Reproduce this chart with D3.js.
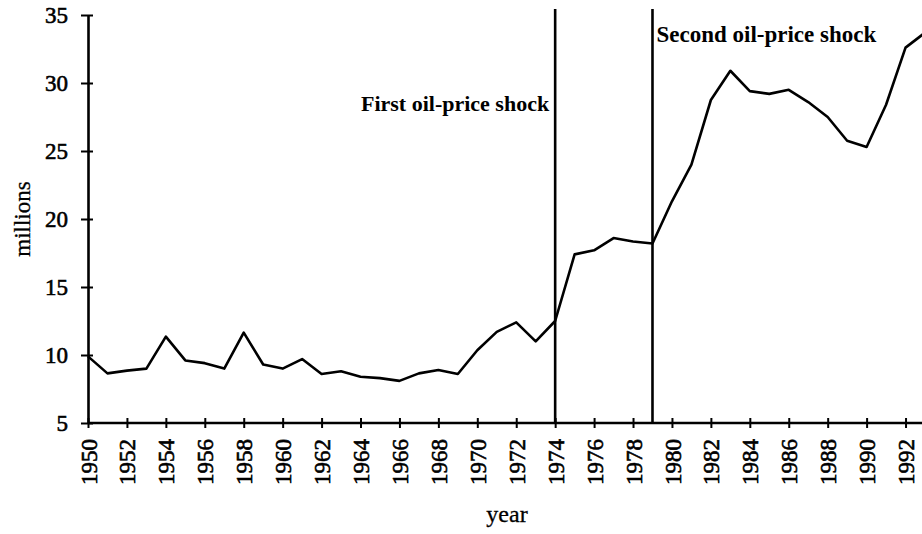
<!DOCTYPE html>
<html>
<head>
<meta charset="utf-8">
<script src="https://cdn.jsdelivr.net/npm/d3@7"></script>
<style>
  body { margin: 0; background: #fff; }
  text { font-family: "Liberation Serif", "Times New Roman", serif; fill: #000; }
</style>
</head>
<body>
<div id="chart"></div>
<script>
const years = d3.range(1950, 1994);
const millions = [
  9.9, 8.65, 8.85, 9.0, 11.35, 9.6, 9.4, 9.0, 11.65, 9.3,
  9.0, 9.7, 8.6, 8.8, 8.4, 8.3, 8.1, 8.65, 8.9, 8.6,
  10.35, 11.7, 12.4, 11.0, 12.5, 17.4, 17.7, 18.6, 18.35, 18.2,
  21.3, 24.0, 28.75, 30.9, 29.4, 29.2, 29.5, 28.6, 27.5, 25.75,
  25.3, 28.4, 32.6, 33.7
];
const yTicks = [5, 10, 15, 20, 25, 30, 35];
const xTicks = d3.range(1950, 1993, 2);
const shocks = [
  { year: 1974, label: "First oil-price shock", side: "left" },
  { year: 1979, label: "Second oil-price shock", side: "right" }
];

const W = 922, H = 534;
const svg = d3.select("#chart").append("svg")
    .attr("width", W)
    .attr("height", H);

const x = d3.scaleLinear().domain([1950, 1993]).range([88, 925]);
const y = d3.scaleLinear().domain([5, 35]).range([423, 15]);

// y axis
const yAxis = svg.append("g")
    .attr("transform", `translate(${x(1950)},0)`)
    .call(d3.axisLeft(y).tickValues(yTicks).tickSize(0).tickPadding(20));
yAxis.select(".domain").attr("stroke", "#000").attr("stroke-width", 2.6);
yAxis.selectAll(".tick text")
    .attr("font-size", 23)
    .attr("font-family", "Liberation Serif")
    .attr("stroke", "#000").attr("stroke-width", 0.6);
yAxis.selectAll(".tick").append("line")
    .attr("x1", -7).attr("x2", 5)
    .attr("stroke", "#000").attr("stroke-width", 2);

// x axis
const xAxis = svg.append("g")
    .attr("transform", `translate(0,${y(5)})`)
    .call(d3.axisBottom(x).tickValues(xTicks).tickFormat(d3.format("d")).tickSize(0));
xAxis.select(".domain").attr("stroke", "#000").attr("stroke-width", 2.6)
    .attr("d", `M${x(1950)},0H${W}`);
xAxis.selectAll(".tick line").remove();
xAxis.selectAll(".tick").append("line")
    .attr("y1", -5).attr("y2", 5)
    .attr("stroke", "#000").attr("stroke-width", 2);
xAxis.selectAll(".tick text")
    .attr("font-size", 23)
    .attr("font-family", "Liberation Serif")
    .attr("stroke", "#000").attr("stroke-width", 0.6)
    .attr("transform", "rotate(-90)")
    .attr("text-anchor", "end")
    .attr("x", -16).attr("y", 0).attr("dy", "0.35em");

// shock lines
svg.selectAll("line.shock")
  .data(shocks)
  .join("line")
    .attr("class", "shock")
    .attr("x1", d => x(d.year)).attr("x2", d => x(d.year))
    .attr("y1", 9).attr("y2", y(5))
    .attr("stroke", "#000").attr("stroke-width", 2.6);

svg.selectAll("text.shock")
  .data(shocks)
  .join("text")
    .attr("class", "shock")
    .attr("x", d => d.side === "left" ? x(d.year) - 6 : x(d.year) + 4)
    .attr("y", d => d.side === "left" ? 111 : 42)
    .attr("text-anchor", d => d.side === "left" ? "end" : "start")
    .attr("font-size", d => d.side === "left" ? 22 : 23)
    .attr("font-weight", "bold")
    .text(d => d.label);

// series line
const line = d3.line()
    .x((d, i) => x(years[i]))
    .y(d => y(d));
svg.append("path")
    .datum(millions)
    .attr("fill", "none")
    .attr("stroke", "#000")
    .attr("stroke-width", 2.6)
    .attr("stroke-linejoin", "round")
    .attr("d", line);

// axis titles
svg.append("text")
    .attr("transform", `translate(30,219) rotate(-90)`)
    .attr("text-anchor", "middle")
    .attr("font-size", 23)
    .attr("stroke", "#000").attr("stroke-width", 0.3)
    .text("millions");

svg.append("text")
    .attr("x", 507).attr("y", 522)
    .attr("text-anchor", "middle")
    .attr("font-size", 24)
    .attr("stroke", "#000").attr("stroke-width", 0.3)
    .text("year");
</script>
</body>
</html>
